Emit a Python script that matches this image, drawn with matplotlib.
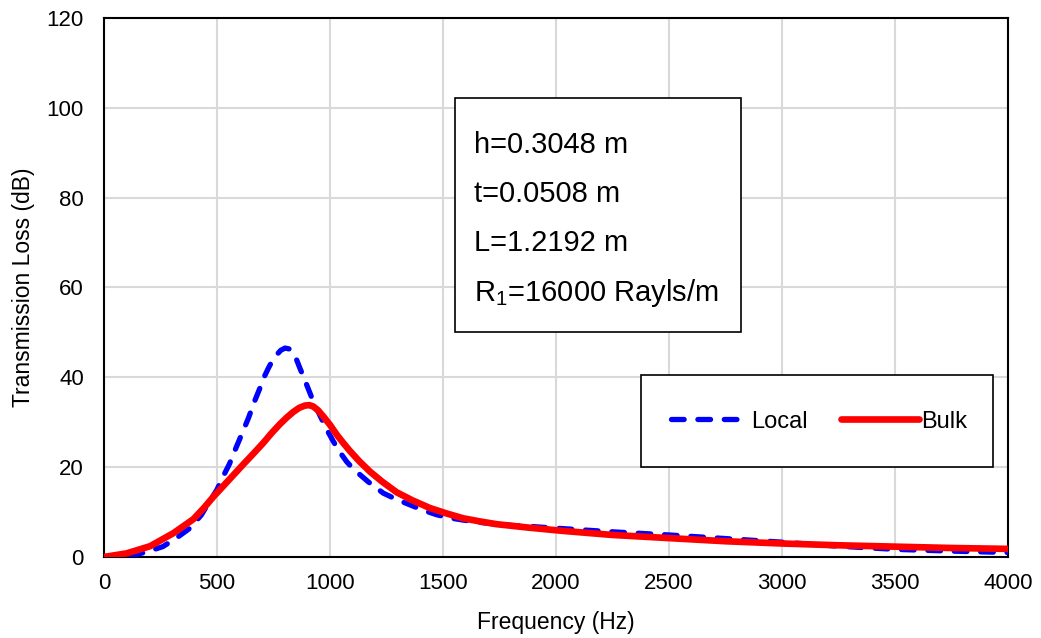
import numpy as np
import matplotlib.pyplot as plt
from matplotlib.patches import Rectangle

plt.rcParams['font.family'] = ['Liberation Sans', 'DejaVu Sans']
plt.rcParams['mathtext.fontset'] = 'custom'
plt.rcParams['mathtext.rm'] = 'Liberation Sans'
plt.rcParams['mathtext.it'] = 'Liberation Sans:italic'

# Local reacting model
f_local = [0, 100, 180, 260, 320, 380, 430, 469, 500, 528, 555, 580, 610, 639, 665, 690,
           710, 727, 745, 764, 782, 801, 820, 838, 853, 867, 882, 897, 912, 926, 948,
           970, 992, 1015, 1044, 1074, 1103, 1133, 1170, 1207, 1236, 1295, 1354, 1413,
           1472, 1530, 1590, 1665, 1737, 1810, 1885, 2003, 2250, 2500, 2750, 3000,
           3250, 3500, 3750, 4000]
tl_local = [0, 0.1, 1.0, 2.3, 4.2, 6.4, 9.3, 12.5, 15.0, 18.0, 20.7, 23.8, 27.4, 30.9,
            34.5, 37.6, 40.2, 42.0, 43.7, 45.0, 46.0, 46.5, 46.3, 45.3, 43.8, 42.0, 40.2,
            38.3, 36.4, 34.6, 32.3, 30.0, 27.8, 25.7, 23.3, 21.2, 19.6, 18.3, 16.7, 15.3,
            14.2, 12.8, 11.6, 10.4, 9.4, 8.7, 8.2, 7.7, 7.3, 7.0, 6.8, 6.4, 5.6, 4.9,
            4.1, 3.3, 2.4, 1.7, 1.3, 1.0]

# Bulk reacting model
f_bulk = [0, 100, 204, 307, 395, 440, 484, 528, 572, 616, 661, 705, 742, 779, 810, 838,
          864, 889, 908, 926, 948, 970, 1000, 1030, 1060, 1088, 1130, 1177, 1230, 1295,
          1365, 1442, 1515, 1590, 1665, 1737, 1885, 2032, 2250, 2500, 2750, 3000,
          3250, 3500, 3750, 4000]
tl_bulk = [0, 0.8, 2.4, 5.3, 8.4, 10.8, 13.4, 15.8, 18.2, 20.6, 23.0, 25.4, 27.6, 29.6,
           31.1, 32.3, 33.2, 33.7, 33.8, 33.5, 32.6, 31.3, 29.4, 27.2, 25.3, 23.6, 21.3,
           19.0, 16.8, 14.4, 12.6, 10.9, 9.7, 8.6, 7.9, 7.3, 6.5, 5.8, 4.9, 4.2, 3.5,
           3.0, 2.6, 2.3, 2.0, 1.8]

params = ["h=0.3048 m", "t=0.0508 m", "L=1.2192 m", "R$_{1}$=16000 Rayls/m"]

fig = plt.figure(figsize=(10.41, 6.38), dpi=100)
ax = fig.add_axes([0.0999, 0.127, 0.8684, 0.845])

ax.plot(f_local, tl_local, color='#0000ff', lw=3.8, dashes=(2.4, 2.6),
        dash_capstyle='round', label='Local', zorder=3)
ax.plot(f_bulk, tl_bulk, color='#ff0000', lw=4.8, solid_capstyle='round',
        solid_joinstyle='round', label='Bulk', zorder=4)

ax.set_xlim(0, 4000)
ax.set_ylim(0, 120)
ax.set_xticks(np.arange(0, 4001, 500))
ax.set_yticks(np.arange(0, 121, 20))
ax.grid(True, color='#d9d9d9', lw=1.5)
ax.set_axisbelow(True)
ax.tick_params(length=0, labelsize=16)
ax.tick_params(axis='x', pad=11.5)
ax.tick_params(axis='y', pad=14.5)
for s in ax.spines.values():
    s.set_linewidth(1.5)
ax.set_xlabel('Frequency (Hz)', fontsize=16.5, labelpad=12)
ax.set_ylabel('Transmission Loss (dB)', fontsize=16.5, labelpad=8)

# parameter box
ax.add_patch(Rectangle((0.388, 0.418), 0.317, 0.434, transform=ax.transAxes,
                       facecolor='white', edgecolor='black', lw=1.2, zorder=5))
for i, s in enumerate(params):
    ax.text(0.409, 0.765 - i * 0.0915, s, transform=ax.transAxes, fontsize=21,
            va='center', ha='left', zorder=6)

# legend box
ax.add_patch(Rectangle((0.594, 0.166), 0.389, 0.172, transform=ax.transAxes,
                       facecolor='white', edgecolor='black', lw=1.2, zorder=5))
leg = ax.legend(loc='center', bbox_to_anchor=(0.791, 0.251), ncol=2, frameon=False,
                fontsize=17, handlelength=3.3, handletextpad=0.1, columnspacing=1.4)
leg.set_zorder(6)

fig.savefig('out.png', dpi=100)
